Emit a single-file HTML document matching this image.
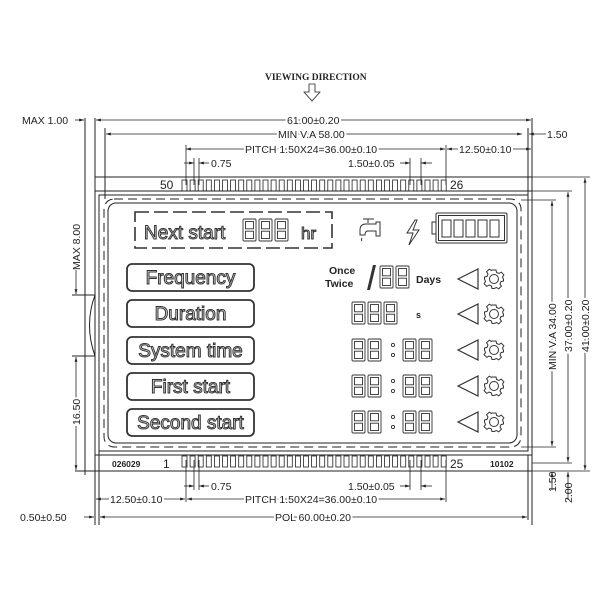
<!DOCTYPE html>
<html><head><meta charset="utf-8"><style>
html,body{margin:0;padding:0;background:#fff}
svg{display:block}
text{font-family:"Liberation Sans",sans-serif;fill:#222}
.d{font-size:10.5px}
.lb{font-size:19px;fill:#e4e4e4;stroke:#333;stroke-width:1;font-weight:normal}
</style></head><body>
<svg width="600" height="600" viewBox="0 0 600 600" xmlns="http://www.w3.org/2000/svg">
<defs>
<marker id="a" viewBox="0 0 10 10" refX="10" refY="5" markerWidth="6" markerHeight="6" orient="auto-start-reverse"><path d="M0,2 L10,5 L0,8 z" fill="#222"/></marker>
<g id="dg" fill="none" stroke="#333" stroke-width="0.9">
<rect x="0" y="0" width="13" height="22" rx="1"/>
<rect x="2.5" y="2.5" width="8" height="7.3"/>
<rect x="2.5" y="12.2" width="8" height="7.3"/>
</g>
<g id="tri"><path d="M0,0 L20,-10 L20,10 Z" fill="none" stroke="#333" stroke-width="1.2" transform="translate(458,0)"/></g>
<g id="gear" fill="none" stroke="#333" stroke-width="1">
<path d="M-2,-9 L2,-9 L2.6,-6.5 L5,-5.5 L7.2,-6.9 L9.9,-4.2 L8.5,-2 L9.5,0.4 L9.5,2 L7,2.6 L6,5 L7.4,7.2 L4.7,9.9 L2.5,8.5 L0,9.5 L-2,9.5 L-2.6,7 L-5,6 L-7.2,7.4 L-9.9,4.7 L-8.5,2.5 L-9.5,0 L-9.5,-2 L-7,-2.6 L-6,-5 L-7.4,-7.2 L-4.7,-9.9 L-2.5,-8.5 Z"/>
<circle r="4.5"/>
</g>
</defs>
<g stroke="#222" stroke-width="1" fill="none">
<rect x="95" y="177" width="437" height="294"/>
<line x1="95" y1="191" x2="532" y2="191"/>
<line x1="95" y1="455" x2="532" y2="455"/>
<rect x="99" y="195" width="429" height="256"/>
<rect x="104" y="199" width="417" height="248" rx="10" stroke-dasharray="9,5"/>
<rect x="108" y="203" width="409" height="240" rx="8"/>
<line x1="85" y1="118" x2="85" y2="475"/>
<line x1="95" y1="118" x2="95" y2="525"/>
<line x1="99" y1="450" x2="99" y2="525"/>
<line x1="532" y1="118" x2="532" y2="525"/>
<line x1="528" y1="128" x2="528" y2="195"/>
<line x1="105" y1="128" x2="105" y2="199"/>
<line x1="528" y1="455" x2="528" y2="520"/>
<path d="M95,295 Q84,325 95,356"/>
<line x1="72" y1="295" x2="95" y2="295"/>
<line x1="72" y1="356" x2="95" y2="356"/>
<line x1="75" y1="471" x2="95" y2="471"/>
</g>
<g stroke="#222" stroke-width="0.8" fill="none">
<line x1="96" y1="120" x2="531" y2="120" marker-start="url(#a)" marker-end="url(#a)"/>
<line x1="106" y1="134" x2="522" y2="134" marker-start="url(#a)" marker-end="url(#a)"/>
<line x1="186" y1="149" x2="445" y2="149" marker-start="url(#a)" marker-end="url(#a)"/>
<line x1="447" y1="149" x2="531" y2="149" marker-start="url(#a)" marker-end="url(#a)"/>
<line x1="186" y1="145" x2="186" y2="185"/><line x1="446" y1="145" x2="446" y2="185"/>
<line x1="194" y1="158" x2="194" y2="185"/><line x1="199" y1="158" x2="199" y2="185"/>
<line x1="184" y1="163" x2="194" y2="163" marker-end="url(#a)"/><line x1="209" y1="163" x2="199" y2="163" marker-end="url(#a)"/>
<line x1="410" y1="158" x2="410" y2="185"/><line x1="421" y1="158" x2="421" y2="185"/>
<line x1="400" y1="163" x2="410" y2="163" marker-end="url(#a)"/><line x1="432" y1="163" x2="421" y2="163" marker-end="url(#a)"/>
<line x1="75" y1="120" x2="84" y2="120" marker-end="url(#a)"/>
<line x1="546" y1="134" x2="529" y2="134" marker-end="url(#a)"/>
<line x1="186" y1="460" x2="186" y2="502"/><line x1="446" y1="460" x2="446" y2="502"/>
<line x1="194" y1="460" x2="194" y2="490"/><line x1="199" y1="460" x2="199" y2="490"/>
<line x1="184" y1="486" x2="194" y2="486" marker-end="url(#a)"/><line x1="209" y1="486" x2="199" y2="486" marker-end="url(#a)"/>
<line x1="410" y1="460" x2="410" y2="490"/><line x1="421" y1="460" x2="421" y2="490"/>
<line x1="400" y1="486" x2="410" y2="486" marker-end="url(#a)"/><line x1="432" y1="486" x2="421" y2="486" marker-end="url(#a)"/>
<line x1="96" y1="499" x2="185" y2="499" marker-start="url(#a)" marker-end="url(#a)"/>
<line x1="187" y1="499" x2="445" y2="499" marker-start="url(#a)" marker-end="url(#a)"/>
<line x1="100" y1="517" x2="527" y2="517" marker-start="url(#a)" marker-end="url(#a)"/>
<line x1="84" y1="517" x2="94" y2="517" marker-end="url(#a)"/>
<line x1="76" y1="270" x2="76" y2="294" marker-end="url(#a)"/>
<line x1="76" y1="357" x2="76" y2="470" marker-start="url(#a)" marker-end="url(#a)"/>
<line x1="532" y1="177" x2="590" y2="177"/>
<line x1="532" y1="191" x2="572" y2="191"/>
<line x1="521" y1="200" x2="556" y2="200"/>
<line x1="521" y1="447" x2="556" y2="447"/>
<line x1="532" y1="463" x2="572" y2="463"/>
<line x1="532" y1="471" x2="590" y2="471"/>
<line x1="552" y1="201" x2="552" y2="446" marker-start="url(#a)" marker-end="url(#a)"/>
<line x1="568" y1="192" x2="568" y2="462" marker-start="url(#a)" marker-end="url(#a)"/>
<line x1="585" y1="178" x2="585" y2="470" marker-start="url(#a)" marker-end="url(#a)"/>
<line x1="552" y1="490" x2="552" y2="472" marker-end="url(#a)"/>
<line x1="568" y1="500" x2="568" y2="472" marker-end="url(#a)"/>
<path d="M309,84 L315,84 L315,92 L320,92 L312,101 L304,92 L309,92 Z"/>
</g>
<g stroke="#222" stroke-width="0.8" fill="none">
<g id="pins">
<rect x="182" y="180" width="5" height="11"/><rect x="190.1" y="180" width="5" height="11"/><rect x="198.2" y="180" width="5" height="11"/><rect x="206.3" y="180" width="5" height="11"/><rect x="214.4" y="180" width="5" height="11"/><rect x="222.5" y="180" width="5" height="11"/><rect x="230.6" y="180" width="5" height="11"/><rect x="238.7" y="180" width="5" height="11"/><rect x="246.8" y="180" width="5" height="11"/><rect x="254.9" y="180" width="5" height="11"/><rect x="263" y="180" width="5" height="11"/><rect x="271.1" y="180" width="5" height="11"/><rect x="279.2" y="180" width="5" height="11"/><rect x="287.3" y="180" width="5" height="11"/><rect x="295.4" y="180" width="5" height="11"/><rect x="303.5" y="180" width="5" height="11"/><rect x="311.6" y="180" width="5" height="11"/><rect x="319.7" y="180" width="5" height="11"/><rect x="327.8" y="180" width="5" height="11"/><rect x="335.9" y="180" width="5" height="11"/><rect x="344" y="180" width="5" height="11"/><rect x="352.1" y="180" width="5" height="11"/><rect x="360.2" y="180" width="5" height="11"/><rect x="368.3" y="180" width="5" height="11"/><rect x="376.4" y="180" width="5" height="11"/><rect x="384.5" y="180" width="5" height="11"/><rect x="392.6" y="180" width="5" height="11"/><rect x="400.7" y="180" width="5" height="11"/><rect x="408.8" y="180" width="5" height="11"/><rect x="416.9" y="180" width="5" height="11"/><rect x="425" y="180" width="5" height="11"/><rect x="433.1" y="180" width="5" height="11"/><rect x="441.2" y="180" width="5" height="11"/>
</g>
<use href="#pins" transform="translate(0,276)"/>
</g>
<text x="265" y="80" style="font-family:'Liberation Serif',serif;font-size:9.5px;font-weight:bold">VIEWING  DIRECTION</text>
<text class="d" x="22" y="124">MAX  1.00</text>
<text class="d" x="287" y="124" style="stroke:#fff;stroke-width:4;paint-order:stroke">61.00±0.20</text>
<text class="d" x="278" y="138" style="stroke:#fff;stroke-width:4;paint-order:stroke">MIN  V.A  58.00</text>
<text class="d" x="245" y="153" style="stroke:#fff;stroke-width:4;paint-order:stroke">PITCH  1.50X24=36.00±0.10</text>
<text class="d" x="459" y="153" style="stroke:#fff;stroke-width:4;paint-order:stroke">12.50±0.10</text>
<text class="d" x="547" y="138">1.50</text>
<text class="d" x="211" y="167">0.75</text>
<text class="d" x="348" y="167">1.50±0.05</text>
<text x="160" y="189" style="font-size:12px">50</text>
<text x="450" y="189" style="font-size:12px">26</text>
<text x="163" y="468" style="font-size:12px">1</text>
<text x="450" y="468" style="font-size:12px">25</text>
<text x="112" y="467" style="font-size:8.5px;font-weight:bold">026029</text>
<text x="490" y="467" style="font-size:8.5px;font-weight:bold">10102</text>
<text class="d" x="211" y="490">0.75</text>
<text class="d" x="348" y="490">1.50±0.05</text>
<text class="d" x="110" y="503" style="stroke:#fff;stroke-width:4;paint-order:stroke">12.50±0.10</text>
<text class="d" x="245" y="503" style="stroke:#fff;stroke-width:4;paint-order:stroke">PITCH  1.50X24=36.00±0.10</text>
<text class="d" x="275" y="521" style="stroke:#fff;stroke-width:4;paint-order:stroke">POL  60.00±0.20</text>
<text class="d" x="20" y="521">0.50±0.50</text>
<text class="d" transform="translate(80,270) rotate(-90)">MAX  8.00</text>
<text class="d" transform="translate(80,425) rotate(-90)" style="stroke:#fff;stroke-width:4;paint-order:stroke">16.50</text>
<text class="d" transform="translate(556,370) rotate(-90)" style="stroke:#fff;stroke-width:4;paint-order:stroke">MIN  V.A  34.00</text>
<text class="d" transform="translate(572,352) rotate(-90)" style="stroke:#fff;stroke-width:4;paint-order:stroke">37.00±0.20</text>
<text class="d" transform="translate(589,352) rotate(-90)" style="stroke:#fff;stroke-width:4;paint-order:stroke">41.00±0.20</text>
<text class="d" transform="translate(556,492) rotate(-90)">1.50</text>
<text class="d" transform="translate(572,503) rotate(-90)">2.00</text>
<rect x="135" y="212" width="197" height="36" fill="none" stroke="#333" stroke-width="1.6" stroke-dasharray="14,5"/>
<text class="lb" x="144" y="239">Next start</text>
<use href="#dg" x="243" y="219"/><use href="#dg" x="259" y="219"/><use href="#dg" x="275" y="219"/>
<text class="lb" x="301" y="239" style="font-size:17px">hr</text>
<g fill="none" stroke="#333" stroke-width="1">
<path d="M363,219 L374,219 M368,219 L368,223 M360,230 Q360,224 366,224 L376,224 L376,222 L380,222 L380,236 L376,236 L376,231 L368,231 Q365,231 365,235 L360,235 Z"/>
<path d="M362,238 Q361,240 362,241"/>
<path d="M415,220 L407,233 L413,233 L409,245 L419,230 L413,230 L417,220 Z"/>
<rect x="432" y="222" width="4" height="12"/>
<rect x="436" y="213" width="71" height="30" rx="1.5"/>
<rect x="438.5" y="215.5" width="66" height="25"/>
<rect x="442" y="220" width="9" height="17"/><rect x="454" y="220" width="9" height="17"/><rect x="466" y="220" width="9" height="17"/><rect x="478" y="220" width="9" height="17"/><rect x="490" y="220" width="9" height="17"/>
</g>
<g fill="none" stroke="#333" stroke-width="1.8">
<rect x="127" y="264" width="127" height="27" rx="5"/>
<rect x="127" y="300" width="127" height="27" rx="5"/>
<rect x="127" y="337" width="127" height="27" rx="5"/>
<rect x="127" y="373" width="127" height="27" rx="5"/>
<rect x="127" y="409" width="127" height="27" rx="5"/>
</g>
<text class="lb" x="190.5" y="284" text-anchor="middle">Frequency</text>
<text class="lb" x="190.5" y="320" text-anchor="middle">Duration</text>
<text class="lb" x="190.5" y="357" text-anchor="middle">System time</text>
<text class="lb" x="190.5" y="393" text-anchor="middle">First start</text>
<text class="lb" x="190.5" y="429" text-anchor="middle">Second start</text>
<text x="329" y="274" style="font-size:10.5px;font-weight:bold">Once</text>
<text x="325" y="287" style="font-size:10.5px;font-weight:bold">Twice</text>
<path d="M373,265 L367,290 L370,290 L376,265 Z" fill="#333"/>
<use href="#dg" x="380" y="266"/><use href="#dg" x="396" y="266"/>
<text x="416" y="283" style="font-size:10.5px;font-weight:bold">Days</text>
<use href="#dg" x="352" y="302"/><use href="#dg" x="368" y="302"/><use href="#dg" x="384" y="302"/>
<text x="416" y="318" style="font-size:9px;font-weight:bold">s</text>
<g fill="none" stroke="#333" stroke-width="0.9">
<use href="#dg" x="352" y="339"/><use href="#dg" x="368" y="339"/><circle cx="393" cy="345" r="1.6"/><circle cx="393" cy="355" r="1.6"/><use href="#dg" x="403" y="339"/><use href="#dg" x="419" y="339"/>
<use href="#dg" x="352" y="375"/><use href="#dg" x="368" y="375"/><circle cx="393" cy="381" r="1.6"/><circle cx="393" cy="391" r="1.6"/><use href="#dg" x="403" y="375"/><use href="#dg" x="419" y="375"/>
<use href="#dg" x="352" y="411"/><use href="#dg" x="368" y="411"/><circle cx="393" cy="417" r="1.6"/><circle cx="393" cy="427" r="1.6"/><use href="#dg" x="403" y="411"/><use href="#dg" x="419" y="411"/>
</g>
<use href="#tri" y="279"/><use href="#gear" transform="translate(494,279)"/>
<use href="#tri" y="314"/><use href="#gear" transform="translate(494,314)"/>
<use href="#tri" y="350"/><use href="#gear" transform="translate(494,350)"/>
<use href="#tri" y="386"/><use href="#gear" transform="translate(494,386)"/>
<use href="#tri" y="422"/><use href="#gear" transform="translate(494,422)"/>
</svg>
</body></html>
